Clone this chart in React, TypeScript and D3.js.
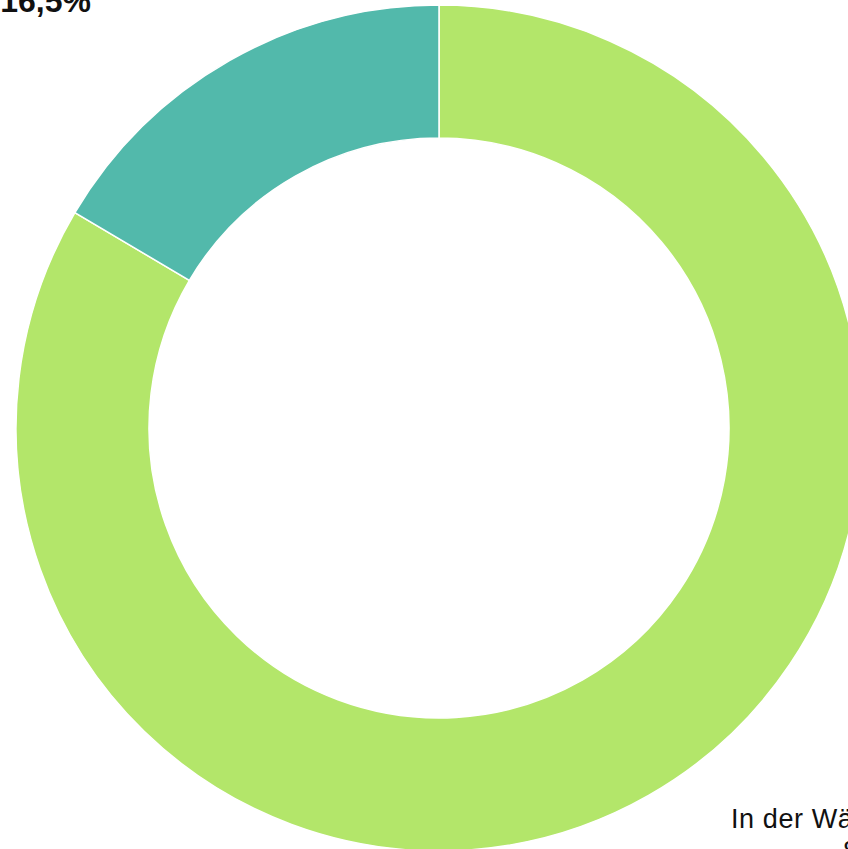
import React from "react";
import * as d3 from "d3";

// slice data
const labels = ["In der Wäsche", "Andere"];
const values = [83.5, 16.5];
const colors = ["#b3e66a", "#52b9ab"];
const valueLabels = ["83,5%", "16,5%"];

const width = 848;
const height = 849;

const App = () => {
  const svgRef = React.useRef<SVGSVGElement>(null);

  React.useEffect(() => {
    const svgEl = d3.select(svgRef.current);
    svgEl.selectAll("*").remove();

    const cx = 439;
    const cy = 428;
    const outer = 423;
    const inner = 290;

    const pie = d3
      .pie<number>()
      .sort(null)
      .value((d) => d);
    const arcs = pie(values);

    const arc = d3
      .arc<d3.PieArcDatum<number>>()
      .innerRadius(inner)
      .outerRadius(outer);

    const g = svgEl.append("g").attr("transform", `translate(${cx},${cy})`);

    g.selectAll("path")
      .data(arcs)
      .enter()
      .append("path")
      .attr("d", arc)
      .attr("fill", (_d, i) => colors[i])
      .attr("stroke", "#ffffff")
      .attr("stroke-width", 1.5);

    // label of the small slice, top left
    svgEl
      .append("text")
      .attr("x", 91)
      .attr("y", 12)
      .attr("text-anchor", "end")
      .attr("font-family", "Liberation Sans, Arial, sans-serif")
      .attr("font-size", 32)
      .attr("font-weight", "bold")
      .attr("fill", "#111")
      .text(valueLabels[1]);

    // label of the big slice, bottom right (runs off the page)
    svgEl
      .append("text")
      .attr("x", 731)
      .attr("y", 828)
      .attr("font-family", "Liberation Sans, Arial, sans-serif")
      .attr("font-size", 27)
      .attr("letter-spacing", 0.6)
      .attr("fill", "#111")
      .text(labels[0]);

    svgEl
      .append("text")
      .attr("x", 843)
      .attr("y", 860)
      .attr("font-family", "Liberation Sans, Arial, sans-serif")
      .attr("font-size", 27)
      .attr("fill", "#111")
      .text(valueLabels[0]);
  }, []);

  return (
    <svg
      ref={svgRef}
      width={width}
      height={height}
      style={{ position: "absolute", left: 0, top: 0, background: "#fff" }}
    />
  );
};

export default App;
